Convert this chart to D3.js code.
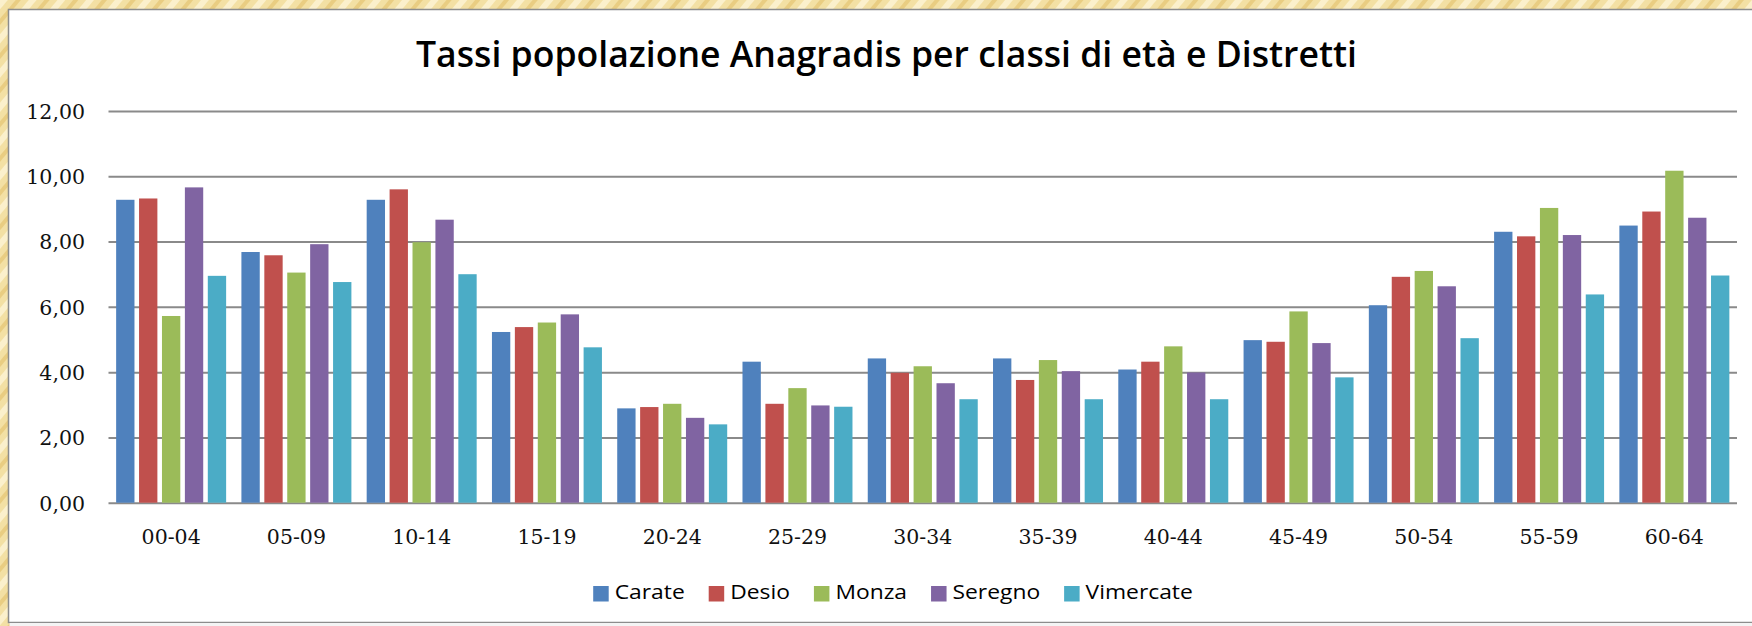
<!DOCTYPE html>
<html>
<head>
<meta charset="utf-8">
<script src="https://cdn.jsdelivr.net/npm/d3@7"></script>
<style>
  html, body { margin: 0; background: #ffffff; overflow: hidden; }
  svg { display: block; }
</style>
</head>
<body>
<div id="chart"></div>
<script>
/* global d3 */

// Data
var categories = ["00-04", "05-09", "10-14", "15-19", "20-24", "25-29", "30-34",
  "35-39", "40-44", "45-49", "50-54", "55-59", "60-64"];
var districts = ["Carate", "Desio", "Monza", "Seregno", "Vimercate"];
var carate    = [9.28, 7.68, 9.28, 5.23, 2.89, 4.32, 4.42, 4.42, 4.08, 4.98, 6.05, 8.30, 8.49];
var desio     = [9.32, 7.58, 9.60, 5.38, 2.93, 3.03, 3.98, 3.76, 4.32, 4.93, 6.92, 8.16, 8.92];
var monza     = [5.72, 7.05, 7.98, 5.52, 3.03, 3.51, 4.18, 4.37, 4.79, 5.86, 7.10, 9.03, 10.17];
var seregno   = [9.66, 7.92, 8.67, 5.77, 2.60, 2.98, 3.66, 4.03, 3.99, 4.89, 6.63, 8.20, 8.73];
var vimercate = [6.95, 6.76, 7.00, 4.76, 2.40, 2.94, 3.17, 3.17, 3.17, 3.84, 5.04, 6.38, 6.96];
var yTicks = [0, 2, 4, 6, 8, 10, 12];
var title = "Tassi popolazione Anagradis per classi di età e Distretti";

var seriesValues = [carate, desio, monza, seregno, vimercate];
var colors = ["#4f81bd", "#c0504d", "#9bbb59", "#8064a2", "#4bacc6"];

var width = 1752,
    height = 626,
    plot = {left: 108.5, right: 1737, top: 111, bottom: 502.7};

// rows for the grouped bars
var rows = categories.map(function(c, i) {
  return {key: c, values: districts.map(function(d, j) {
    return {key: d, value: seriesValues[j][i]};
  })};
});

var it = d3.formatLocale({decimal: ",", thousands: ".", grouping: [3], currency: ["", "€"]});
var fmt = it.format(".2f");

var svg = d3.select("#chart").append("svg")
    .attr("width", width)
    .attr("height", height);

// beige textured frame
var defs = svg.append("defs");
var pat = defs.append("pattern")
    .attr("id", "bg")
    .attr("patternUnits", "userSpaceOnUse")
    .attr("width", 22)
    .attr("height", 22)
    .attr("patternTransform", "rotate(40)");
pat.append("rect").attr("width", 22).attr("height", 22).attr("fill", "#f3e0a4");
pat.append("rect").attr("x", 0).attr("width", 6).attr("height", 22).attr("fill", "#fbf0cc");
pat.append("rect").attr("x", 12).attr("width", 4).attr("height", 22).attr("fill", "#e9cd82");

svg.append("rect")
    .attr("width", width)
    .attr("height", height)
    .attr("fill", "url(#bg)");

// white chart panel
svg.append("rect")
    .attr("x", 8.5)
    .attr("y", 9.5)
    .attr("width", width + 10)
    .attr("height", 613)
    .attr("fill", "#ffffff")
    .attr("stroke", "#8c8c8c")
    .attr("stroke-width", 1.5);
svg.append("rect")
    .attr("x", 9.5)
    .attr("y", 623)
    .attr("width", width)
    .attr("height", 3)
    .attr("fill", "#f4f4f4");

var x0 = d3.scaleBand()
    .domain(categories)
    .range([plot.left, plot.right])
    .paddingInner(0.122)
    .paddingOuter(0.061);

var x1 = d3.scaleBand()
    .domain(districts)
    .range([0, x0.bandwidth()])
    .paddingInner(0.2);

var y = d3.scaleLinear()
    .domain([0, 12])
    .range([plot.bottom, plot.top]);

function stretch(sel, k) {
  sel.each(function() {
    var n = this.getComputedTextLength();
    d3.select(this).attr("textLength", n * k).attr("lengthAdjust", "spacingAndGlyphs");
  });
}

// y axis with gridlines
var gy = svg.append("g")
    .attr("class", "y axis")
    .attr("transform", "translate(" + plot.left + ",0)")
    .call(d3.axisLeft(y)
      .tickValues(yTicks)
      .tickSize(-(plot.right - plot.left))
      .tickPadding(23.5)
      .tickFormat(fmt));
gy.select(".domain").remove();
gy.selectAll(".tick line")
    .attr("stroke", "#8a8a8a")
    .attr("stroke-width", 2);
gy.selectAll(".tick text")
    .attr("fill", "#111")
    .attr("dy", "0.36em")
    .style("font-family", "'DejaVu Serif', serif")
    .style("font-size", "20.5px");

// bars
var groups = svg.append("g")
    .selectAll("g")
    .data(rows)
    .join("g")
    .attr("transform", function(d) { return "translate(" + x0(d.key) + ",0)"; });

groups.selectAll("rect")
    .data(function(d) { return d.values; })
    .join("rect")
    .attr("x", function(d) { return x1(d.key); })
    .attr("y", function(d) { return y(d.value); })
    .attr("width", x1.bandwidth())
    .attr("height", function(d) { return y(0) - y(d.value); })
    .attr("fill", function(d, i) { return colors[i]; });

// x axis labels
var gx = svg.append("g")
    .attr("class", "x axis")
    .attr("transform", "translate(0," + plot.bottom + ")")
    .call(d3.axisBottom(x0).tickSize(0));
gx.select(".domain").remove();
gx.selectAll(".tick text")
    .attr("y", 41.3)
    .attr("dy", 0)
    .attr("fill", "#111")
    .style("font-family", "'DejaVu Serif', serif")
    .style("font-size", "20.5px");

// title
var t = svg.append("text")
    .attr("x", 886.5)
    .attr("y", 66.7)
    .attr("text-anchor", "middle")
    .style("font-family", "'Open Sans', sans-serif")
    .style("font-size", "36px")
    .style("font-weight", 600)
    .attr("fill", "#000")
    .text(title);
t.attr("textLength", 941).attr("lengthAdjust", "spacingAndGlyphs");

// legend
var legend = svg.append("g").attr("class", "legend");
var lx = 0;
districts.forEach(function(d, i) {
  var item = legend.append("g").attr("transform", "translate(" + lx + ",0)");
  item.append("rect")
      .attr("x", 0)
      .attr("y", 586)
      .attr("width", 15.5)
      .attr("height", 15.5)
      .attr("fill", colors[i]);
  var txt = item.append("text")
      .attr("x", 21.5)
      .attr("y", 599)
      .style("font-family", "'Open Sans', sans-serif")
      .style("font-size", "19.5px")
      .attr("fill", "#000")
      .text(d);
  stretch(txt, 1.17);
  lx += 21.5 + (+txt.attr("textLength")) + 24;
});
var legendW = lx - 24;
legend.attr("transform", "translate(" + (893 - legendW / 2) + ",0)");
</script>
</body>
</html>
